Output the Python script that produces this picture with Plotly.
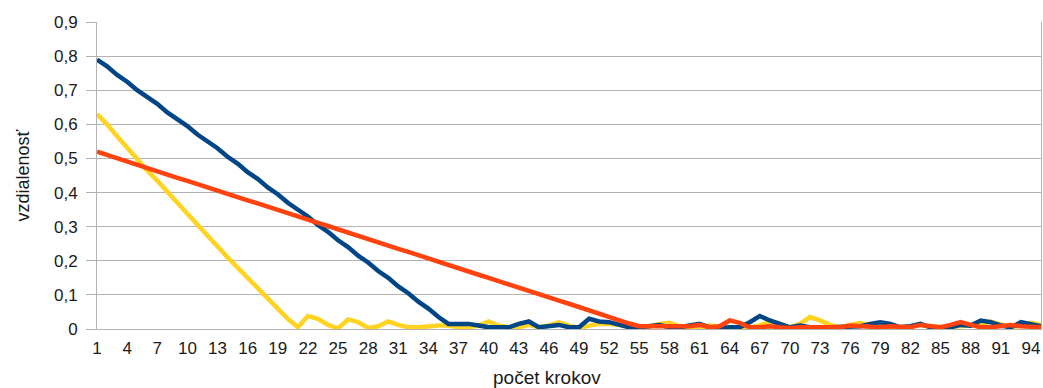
import plotly.graph_objects as go

steps = list(range(1, 96))

blue = [0.79, 0.77, 0.745, 0.725, 0.70, 0.68, 0.66, 0.635, 0.615, 0.595,
        0.57, 0.55, 0.53, 0.505, 0.485, 0.46, 0.44, 0.415, 0.395, 0.37,
        0.35, 0.33, 0.305, 0.285, 0.26, 0.24, 0.215, 0.195, 0.17, 0.15,
        0.125, 0.105, 0.08, 0.06, 0.035, 0.015, 0.015, 0.015, 0.01, 0.005,
        0.005, 0.005, 0.015, 0.022, 0.005, 0.01, 0.012, 0.005, 0.005, 0.03,
        0.022, 0.02, 0.012, 0.005, 0.005, 0.01, 0.012, 0.005, 0.005, 0.01,
        0.015, 0.005, 0.003, 0.005, 0.005, 0.02, 0.038, 0.025, 0.015, 0.005,
        0.01, 0.005, 0.0, 0.005, 0.005, 0.005, 0.008, 0.015, 0.02, 0.015,
        0.005, 0.008, 0.015, 0.005, 0.005, 0.005, 0.012, 0.01, 0.025, 0.02,
        0.01, 0.005, 0.02, 0.015, 0.008]

yellow = [0.63, 0.60, 0.565, 0.53, 0.50, 0.465, 0.435, 0.40, 0.37, 0.338,
          0.305, 0.275, 0.243, 0.21, 0.18, 0.152, 0.12, 0.09, 0.058, 0.03,
          0.005, 0.038, 0.03, 0.012, 0.002, 0.028, 0.02, 0.003, 0.008, 0.022,
          0.012, 0.005, 0.005, 0.008, 0.01, 0.01, 0.005, 0.005, 0.01, 0.022,
          0.01, 0.005, 0.005, 0.012, 0.005, 0.01, 0.02, 0.01, 0.003, 0.01,
          0.015, 0.015, 0.012, 0.005, 0.003, 0.008, 0.015, 0.018, 0.008, 0.005,
          0.005, 0.01, 0.005, 0.003, 0.005, 0.005, 0.01, 0.022, 0.015, 0.005,
          0.015, 0.035, 0.025, 0.012, 0.005, 0.012, 0.018, 0.008, 0.005, 0.005,
          0.005, 0.01, 0.012, 0.005, 0.005, 0.005, 0.008, 0.012, 0.015, 0.022,
          0.012, 0.005, 0.01, 0.018, 0.012]

red = [0.52, 0.51, 0.50, 0.49, 0.481, 0.472, 0.462, 0.453, 0.443, 0.434,
       0.424, 0.414, 0.405, 0.395, 0.386, 0.377, 0.368, 0.358, 0.349, 0.339,
       0.330, 0.321, 0.311, 0.302, 0.292, 0.283, 0.273, 0.264, 0.254, 0.245,
       0.235, 0.226, 0.216, 0.207, 0.197, 0.188, 0.178, 0.169, 0.159, 0.150,
       0.140, 0.131, 0.121, 0.112, 0.102, 0.093, 0.083, 0.074, 0.064, 0.055,
       0.045, 0.036, 0.026, 0.016, 0.008, 0.008, 0.005, 0.008, 0.005, 0.008,
       0.012, 0.005, 0.008, 0.025, 0.018, 0.005, 0.005, 0.008, 0.005, 0.003,
       0.005, 0.005, 0.005, 0.008, 0.005, 0.01, 0.008, 0.005, 0.005, 0.008,
       0.005, 0.005, 0.012, 0.008, 0.005, 0.012, 0.02, 0.012, 0.005, 0.005,
       0.01, 0.012, 0.008, 0.005, 0.005]

x_ticks = list(range(1, 96, 3))
y_ticks = [0, 0.1, 0.2, 0.3, 0.4, 0.5, 0.6, 0.7, 0.8, 0.9]
y_tick_labels = ["0", "0,1", "0,2", "0,3", "0,4", "0,5", "0,6", "0,7", "0,8", "0,9"]

x_title = "počet krokov"
y_title = "vzdialenosť"

fig = go.Figure()
fig.add_trace(go.Scatter(x=steps, y=yellow, mode="lines",
                         line=dict(color="#FFD320", width=4.5)))
fig.add_trace(go.Scatter(x=steps, y=blue, mode="lines",
                         line=dict(color="#004586", width=4.5)))
fig.add_trace(go.Scatter(x=steps, y=red, mode="lines",
                         line=dict(color="#FF420E", width=4.5)))

font_family = "Liberation Sans, Arial, sans-serif"

fig.update_layout(
    width=1043, height=388,
    margin=dict(l=97, r=2, t=22, b=59, autoexpand=False),
    paper_bgcolor="white", plot_bgcolor="white",
    showlegend=False,
    font=dict(family=font_family, size=17, color="#1a1a1a"),
    xaxis=dict(
        range=[1, 95], tickvals=x_ticks, ticktext=[str(v) for v in x_ticks],
        showgrid=False, zeroline=False, automargin=False,
        showline=True, linecolor="#b3b3b3", linewidth=1,
        ticks="outside", ticklen=4, tickcolor="white",
        tickfont=dict(size=17),
    ),
    yaxis=dict(
        range=[0, 0.9], tickvals=y_ticks, ticktext=y_tick_labels,
        showgrid=True, gridcolor="#b3b3b3", gridwidth=1,
        zeroline=False, automargin=False,
        showline=True, linecolor="#b3b3b3", linewidth=1, mirror=True,
        ticks="outside", ticklen=10, tickcolor="#b3b3b3",
        ticklabelstandoff=5,
        tickfont=dict(size=17),
    ),
    annotations=[
        dict(text=x_title, xref="paper", yref="paper", x=0.5, y=0,
             xshift=-22, yshift=-48, showarrow=False, yanchor="middle",
             font=dict(size=19)),
        dict(text=y_title, xref="paper", yref="paper", x=0, y=0.5,
             xshift=-75, showarrow=False, xanchor="center", textangle=-90,
             font=dict(size=18)),
    ],
)

fig.write_html("out.html", config={"displayModeBar": False},
               post_script="document.body.style.margin='0px';")
